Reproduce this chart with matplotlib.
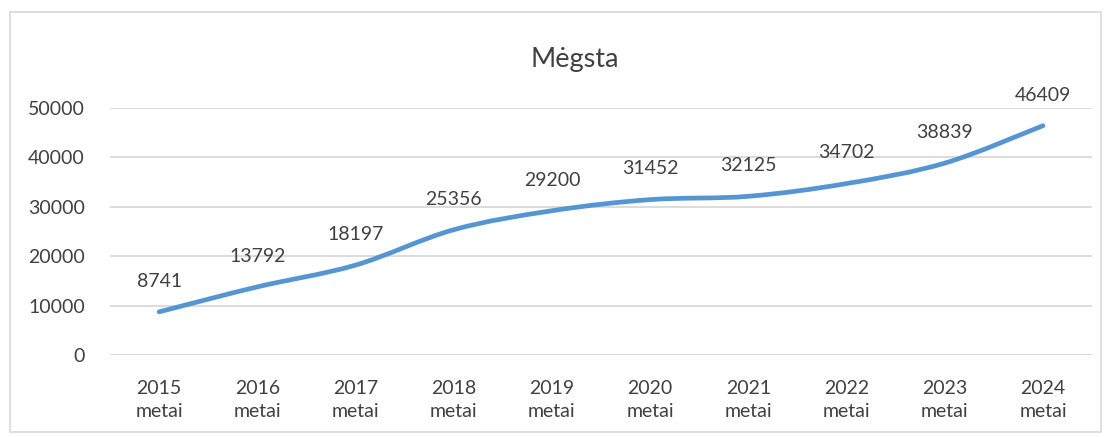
import matplotlib.pyplot as plt
import numpy as np
from matplotlib.path import Path
from matplotlib.patches import PathPatch, Rectangle

plt.rcParams['font.family'] = ['Lato', 'DejaVu Sans']

years = ['2015', '2016', '2017', '2018', '2019', '2020', '2021', '2022', '2023', '2024']
likes = [8741, 13792, 18197, 25356, 29200, 31452, 32125, 34702, 38839, 46409]
title = 'Mėgsta'

line_color = '#5596D2'
grid_color = '#D9D9D9'
text_color = '#404040'


def smooth_path(xs, ys, t=1 / 6):
    # Excel-like smoothed line: Catmull-Rom segments as cubic Beziers
    pts = np.column_stack([xs, ys]).astype(float)
    verts = [pts[0]]
    codes = [Path.MOVETO]
    n = len(pts)
    for i in range(n - 1):
        p0 = pts[max(i - 1, 0)]
        p1 = pts[i]
        p2 = pts[i + 1]
        p3 = pts[min(i + 2, n - 1)]
        c1 = p1 + (p2 - p0) * t
        c2 = p2 - (p3 - p1) * t
        verts += [c1, c2, p2]
        codes += [Path.CURVE4] * 3
    return Path(verts, codes)


fig = plt.figure(figsize=(11.08, 4.37), dpi=100)
fig.patches.append(Rectangle((0.009, 0.011), 0.985, 0.962, transform=fig.transFigure,
                             fill=False, edgecolor='#D9D9D9', linewidth=1.2))
ax = fig.add_axes([0.0993, 0.1876, 0.8863, 0.5653])

x = np.arange(len(years))
ax.add_patch(PathPatch(smooth_path(x, likes), fill=False, edgecolor=line_color,
                       linewidth=3.4, capstyle='round', joinstyle='round', zorder=3))

for xi, v in zip(x, likes):
    ax.annotate(str(v), (xi, v), xytext=(0, 16), textcoords='offset points',
                ha='center', va='bottom', fontsize=14, color=text_color)

ax.set_xlim(-0.5, len(years) - 0.5)
ax.set_ylim(0, 50000)
ax.set_yticks(range(0, 50001, 10000))
ax.set_xticks(x)
ax.set_xticklabels([f'{y}\nmetai' for y in years], fontsize=14, color=text_color,
                   linespacing=1.4)
ax.tick_params(axis='y', labelsize=14, labelcolor=text_color, length=0, pad=18)
ax.tick_params(axis='x', length=0, pad=18)
ax.grid(axis='y', color=grid_color, linewidth=1.3)
ax.set_axisbelow(True)
for s in ax.spines.values():
    s.set_visible(False)

fig.text(0.519, 0.863, title, ha='center', va='center', fontsize=19.5, color='#404040')

fig.savefig('out.png', dpi=100)
